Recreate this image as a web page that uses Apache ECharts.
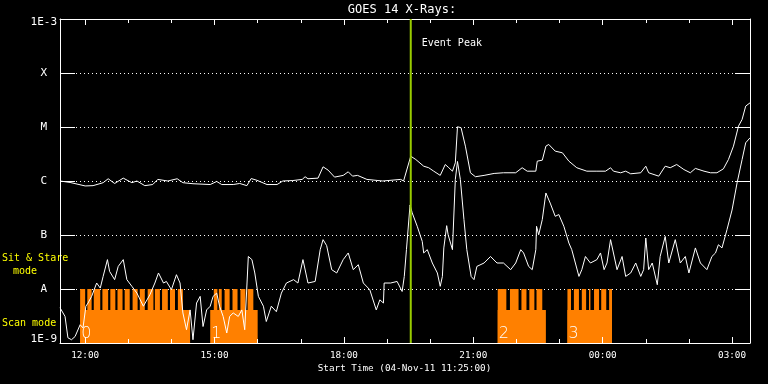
<!DOCTYPE html>
<html><head><meta charset="utf-8">
<script src="https://cdn.jsdelivr.net/npm/echarts@6/dist/echarts.min.js"></script>
<style>html,body{margin:0;padding:0;background:#000}#c{width:768px;height:384px}</style>
</head><body><div id="c"></div><script>
const chartTitle = 'GOES 14 X-Rays:';
const xAxisTitle = 'Start Time (04-Nov-11 11:25:00)';
const startTime = '11:25';
const endTime = '03:25';
const majorTickLabels = ['12:00', '15:00', '18:00', '21:00', '00:00', '03:00'];
const hourTicks = ['12:00','13:00','14:00','15:00','16:00','17:00','18:00','19:00','20:00','21:00','22:00','23:00','00:00','01:00','02:00','03:00'];
const yTickLabels = ['1E-9', 'A', 'B', 'C', 'M', 'X', '1E-3'];
const eventPeakTime = '19:33';
const eventPeakLabel = 'Event Peak';
const modeLabels = ['Sit & Stare', 'mode', 'Scan mode'];

// GOES long channel (1-8 A) [time, W/m^2]
const longChannel = [
['11:25',1.0e-6],['11:39',0.94e-6],['12:00',0.81e-6],['12:11',0.82e-6],['12:25',0.93e-6],['12:32',1.10e-6],['12:41',0.90e-6],['12:53',1.13e-6],['13:05',0.93e-6],['13:12',1.0e-6],['13:23',0.82e-6],['13:34',0.86e-6],['13:41',1.07e-6],['13:55',1.0e-6],['14:08',1.10e-6],['14:16',0.93e-6],['14:30',0.89e-6],['14:54',0.86e-6],['15:03',0.98e-6],['15:10',0.86e-6],['15:26',0.86e-6],['15:35',0.90e-6],['15:45',0.82e-6],['15:51',1.11e-6],['15:59',1.03e-6],['16:13',0.86e-6],['16:27',0.86e-6],['16:35',1.0e-6],['16:49',1.02e-6],['17:02',1.07e-6],['17:06',1.2e-6],['17:10',1.10e-6],['17:24',1.13e-6],['17:31',1.83e-6],['17:38',1.59e-6],['17:47',1.18e-6],['17:59',1.27e-6],['18:06',1.48e-6],['18:12',1.23e-6],['18:19',1.27e-6],['18:32',1.07e-6],['18:54',1.0e-6],['19:19',1.07e-6],['19:23',1.0e-6],['19:33',2.88e-6],['19:40',2.5e-6],['19:51',1.88e-6],['19:58',1.76e-6],['20:05',1.52e-6],['20:14',1.27e-6],['20:21',2.02e-6],['20:26',1.76e-6],['20:31',1.52e-6],['20:35',2.17e-6],['20:38',1.01e-5],['20:43',9.7e-6],['20:49',4.42e-6],['20:56',1.42e-6],['21:03',1.2e-6],['21:15',1.27e-6],['21:29',1.38e-6],['21:42',1.42e-6],['21:59',1.42e-6],['22:08',1.76e-6],['22:15',1.52e-6],['22:27',1.52e-6],['22:29',2.33e-6],['22:36',2.43e-6],['22:41',4.42e-6],['22:45',4.75e-6],['22:54',3.57e-6],['23:04',3.33e-6],['23:13',2.33e-6],['23:24',1.76e-6],['23:38',1.52e-6],['23:52',1.52e-6],['00:04',1.52e-6],['00:11',1.76e-6],['00:15',1.52e-6],['00:25',1.42e-6],['00:32',1.52e-6],['00:39',1.36e-6],['00:53',1.42e-6],['01:00',1.88e-6],['01:04',1.42e-6],['01:18',1.23e-6],['01:27',1.88e-6],['01:34',1.76e-6],['01:43',2.02e-6],['01:53',1.63e-6],['02:02',1.42e-6],['02:09',1.71e-6],['02:21',1.52e-6],['02:30',1.42e-6],['02:39',1.42e-6],['02:48',1.68e-6],['02:55',2.5e-6],['03:02',4.42e-6],['03:09',1.04e-5],['03:14',1.38e-5],['03:19',2.44e-5],['03:25',2.8e-5]
];

// GOES short channel (0.5-4 A) [time, W/m^2]
const shortChannel = [
['11:25',4.5e-9],['11:32',3.1e-9],['11:36',1.25e-9],['11:41',1.15e-9],['11:46',1.32e-9],['11:53',2.18e-9],['11:57',1.9e-9],['12:01',4.8e-9],['12:04',5.5e-9],['12:09',7.3e-9],['12:16',1.29e-8],['12:21',1.04e-8],['12:25',1.71e-8],['12:31',3.5e-8],['12:34',2.12e-8],['12:41',1.49e-8],['12:46',2.62e-8],['12:53',3.5e-8],['12:58',1.49e-8],['13:05',1.12e-8],['13:12',8.4e-9],['13:21',4.8e-9],['13:30',7.8e-9],['13:37',1.29e-8],['13:42',1.98e-8],['13:49',1.29e-8],['13:53',1.38e-8],['14:00',9.7e-9],['14:07',1.84e-8],['14:12',1.29e-8],['14:16',3.6e-9],['14:21',1.76e-9],['14:26',4.1e-9],['14:30',1.15e-9],['14:35',5.5e-9],['14:40',7.3e-9],['14:44',2.02e-9],['14:49',4.1e-9],['14:54',4.8e-9],['14:58',7.3e-9],['15:03',8.4e-9],['15:07',4.8e-9],['15:12',3.1e-9],['15:17',1.53e-9],['15:21',3.1e-9],['15:26',3.6e-9],['15:33',3.1e-9],['15:38',4.1e-9],['15:42',1.76e-9],['15:47',4.0e-8],['15:52',3.5e-8],['15:56',1.98e-8],['16:01',7.3e-9],['16:08',4.8e-9],['16:12',2.5e-9],['16:19',4.8e-9],['16:26',3.8e-9],['16:33',8.4e-9],['16:40',1.29e-8],['16:50',1.49e-8],['16:56',1.29e-8],['17:03',3.5e-8],['17:10',1.29e-8],['17:20',1.38e-8],['17:27',5.35e-8],['17:31',8.2e-8],['17:36',6.35e-8],['17:43',2.28e-8],['17:50',1.98e-8],['17:59',3.5e-8],['18:06',4.65e-8],['18:13',2.28e-8],['18:20',2.82e-8],['18:27',1.29e-8],['18:36',9.7e-9],['18:45',4.1e-9],['18:50',6.3e-9],['18:55',5.5e-9],['18:56',1.29e-8],['19:05',1.29e-8],['19:14',1.38e-8],['19:21',9.0e-9],['19:24',1.71e-8],['19:27',5.35e-8],['19:32',3.6e-7],['19:35',2.57e-7],['19:42',1.45e-7],['19:49',7.6e-8],['19:51',4.65e-8],['19:56',5.35e-8],['20:03',3.03e-8],['20:10',1.98e-8],['20:14',1.12e-8],['20:17',1.71e-8],['20:19',5.76e-8],['20:23',1.49e-7],['20:25',1.01e-7],['20:31',5.35e-8],['20:35',1.07e-6],['20:38',2.3e-6],['20:42',1.07e-6],['20:47',1.93e-7],['20:51',5.35e-8],['20:57',1.71e-8],['21:01',1.49e-8],['21:05',2.62e-8],['21:15',3.03e-8],['21:24',4.0e-8],['21:33',3.03e-8],['21:42',3.03e-8],['21:52',2.28e-8],['21:59',3.03e-8],['22:06',5.35e-8],['22:10',4.65e-8],['22:17',2.62e-8],['22:22',2.28e-8],['22:27',5.35e-8],['22:28',1.45e-7],['22:31',1.01e-7],['22:36',1.93e-7],['22:41',6.0e-7],['22:47',3.9e-7],['22:54',2.22e-7],['22:59',2.39e-7],['23:06',1.45e-7],['23:13',7.1e-8],['23:17',5.35e-8],['23:22',3.03e-8],['23:27',1.71e-8],['23:31',2.28e-8],['23:36',4.0e-8],['23:43',3.03e-8],['23:52',3.5e-8],['23:57',4.65e-8],['00:02',2.28e-8],['00:06',3.03e-8],['00:11',8.2e-8],['00:20',2.28e-8],['00:27',4.0e-8],['00:32',1.71e-8],['00:39',1.98e-8],['00:46',3.03e-8],['00:53',1.71e-8],['00:57',2.28e-8],['01:00',8.8e-8],['01:04',2.28e-8],['01:09',3.03e-8],['01:16',1.2e-8],['01:20',4.0e-8],['01:27',9.4e-8],['01:32',3.03e-8],['01:41',8.2e-8],['01:48',3.03e-8],['01:55',4.0e-8],['02:00',1.98e-8],['02:09',5.76e-8],['02:16',3.03e-8],['02:25',2.28e-8],['02:32',4.0e-8],['02:37',4.65e-8],['02:41',6.6e-8],['02:46',5.76e-8],['02:53',1.26e-7],['03:00',2.9e-7],['03:07',9.2e-7],['03:14',2.5e-6],['03:19',5.1e-6],['03:25',6.3e-6]
];

// Observing mode blocks: [start, end, label]
const scanBlocks = [['11:53','14:26','0'], ['14:54','16:00','1'], ['21:34','22:41','2'], ['23:11','00:13','3']];
const stareBars = [
['11:53','12:00'],['12:03','12:09'],['12:12','12:21'],['12:24','12:32'],['12:35','12:42'],['12:45','12:52'],['12:55','13:02'],['13:06','13:13'],['13:16','13:23'],['13:27','13:35'],['13:37','13:44'],['13:47','13:55'],['13:58','14:05'],['14:09','14:16'],
['14:59','15:04'],['15:06','15:10'],['15:14','15:21'],['15:25','15:32'],['15:36','15:43'],['15:46','15:54'],
['21:34','21:46'],['21:51','22:03'],['22:07','22:14'],['22:18','22:25'],['22:28','22:36'],
['23:11','23:16'],['23:20','23:27'],['23:31','23:37'],['23:41','23:43'],['23:48','23:55'],['23:58','00:05'],['00:09','00:13']
];
const scanLevel = 4.1e-9;
const stareLevel = 1e-8;
const yMin = 1e-9, yMax = 1e-3;

const WHITE = '#ffffff', ORANGE = '#ff8000', GREEN = '#99cc00', YELLOW = '#ffff00';
const MONO = '"DejaVu Sans Mono", monospace';

function toHour(s) {
  const p = s.split(':').map(Number);
  let v = p[0] + p[1] / 60;
  if (v < 11) v += 24;
  return v;
}
const xMin = toHour(startTime), xMax = toHour(endTime);
const majorVals = majorTickLabels.map(toHour);
const hourVals = hourTicks.map(toHour);

const chart = echarts.init(document.getElementById('c'), null, {renderer: 'canvas'});

const xBase = {
  type: 'value', min: xMin, max: xMax, z: 4,
  splitLine: {show: false},
  axisLine: {show: false, onZero: false},
  axisLabel: {show: false},
  axisTick: {show: false}
};
const borderLine = {show: true, onZero: false, lineStyle: {color: WHITE, width: 1}};
const majorTick = {show: true, inside: true, length: 6, customValues: majorVals, lineStyle: {color: WHITE, width: 1}};
const minorTick = {show: true, inside: true, length: 4, customValues: hourVals, lineStyle: {color: WHITE, width: 1}};

function fmtHour(v) {
  const h = Math.round(v) % 24;
  return (h < 10 ? '0' : '') + h + ':00';
}

function yLabel(v) {
  const idx = Math.round(Math.log10(v)) + 9;
  const t = yTickLabels[idx];
  if (idx === 6) return '{top|' + t + '}';
  if (idx === 0) return '{bot|' + t + '}';
  return '{l|' + t + '}';
}
const yFont = {fontFamily: MONO, fontSize: 11, color: WHITE};

function renderModeBlock(params, api) {
  const s = api.coord([api.value(0), api.value(2)]);
  const e = api.coord([api.value(1), yMin]);
  const children = [{
    type: 'rect',
    shape: {x: s[0], y: s[1], width: e[0] - s[0], height: e[1] - s[1]},
    style: {fill: ORANGE}
  }];
  if (params.seriesName === 'scan') {
    const lbl = scanBlocks[params.dataIndex][2];
    children.push({
      type: 'text', x: s[0] + 1, y: e[1] - 1, z2: 5,
      style: {text: lbl, fill: WHITE, fontSize: 16, fontWeight: 200, fontFamily: '"DejaVu Sans"',
        font: '200 16px "DejaVu Sans"', textAlign: 'left', align: 'left',
        textVerticalAlign: 'bottom', verticalAlign: 'bottom'}
    });
  }
  return {type: 'group', children: children};
}

function renderEvent(params, api) {
  const p0 = api.coord([api.value(0), yMax]);
  const p1 = api.coord([api.value(0), yMin]);
  return {type: 'group', children: [
    {type: 'line', shape: {x1: p0[0], y1: p0[1], x2: p1[0], y2: p1[1]}, style: {stroke: GREEN, lineWidth: 2}},
    {type: 'text', x: p0[0] + 11, y: p0[1] + 24,
      style: {text: eventPeakLabel, fill: WHITE, font: '10px ' + MONO, fontSize: 10, fontFamily: MONO,
        textAlign: 'left', align: 'left', textVerticalAlign: 'middle', verticalAlign: 'middle'}}
  ]};
}

function gText(x, y, text, size, color, align) {
  return {type: 'text', x: x, y: y,
    style: {text: text, fill: color, font: size + 'px ' + MONO, fontSize: size, fontFamily: MONO,
      textAlign: align, align: align, textVerticalAlign: 'middle', verticalAlign: 'middle'}};
}

const option = {
  backgroundColor: '#000000',
  animation: false,
  grid: {left: 60, top: 19, width: 690, height: 324, containLabel: false, outerBoundsMode: 'none', show: false},
  xAxis: [
    Object.assign({}, xBase, {position: 'bottom', axisLine: borderLine, axisTick: majorTick,
      axisLabel: {show: true, customValues: majorVals, formatter: fmtHour, color: WHITE,
        fontFamily: MONO, fontSize: 9.3, margin: 13, verticalAlign: 'middle'}}),
    Object.assign({}, xBase, {position: 'bottom', axisTick: minorTick}),
    Object.assign({}, xBase, {position: 'top', axisLine: borderLine, axisTick: majorTick}),
    Object.assign({}, xBase, {position: 'top', axisTick: minorTick})
  ],
  yAxis: [
    {type: 'log', logBase: 10, min: yMin, max: yMax, splitNumber: 6, position: 'left',
      axisLine: {show: true, lineStyle: {color: WHITE, width: 1}},
      axisTick: {show: true, inside: true, length: 15, lineStyle: {color: WHITE, width: 1}},
      splitLine: {show: true, lineStyle: {color: WHITE, width: 1, type: [1, 3]}},
      minorTick: {show: false}, minorSplitLine: {show: false},
      axisLabel: {show: true, margin: 3, formatter: yLabel, color: WHITE, fontFamily: MONO, fontSize: 11,
        rich: {
          top: Object.assign({padding: [7, 0, 0, 0]}, yFont),
          bot: Object.assign({padding: [0, 0, 7, 0]}, yFont),
          l: Object.assign({padding: [0, 10, 0, 0]}, yFont)
        }}},
    {type: 'log', logBase: 10, min: yMin, max: yMax, splitNumber: 6, position: 'right',
      axisLine: {show: true, lineStyle: {color: WHITE, width: 1}},
      axisTick: {show: true, inside: true, length: 15, lineStyle: {color: WHITE, width: 1}},
      splitLine: {show: false}, axisLabel: {show: false}}
  ],
  graphic: [
    gText(402, 9.5, chartTitle, 12, WHITE, 'center'),
    gText(404.5, 368.5, xAxisTitle, 9.3, WHITE, 'center'),
    gText(2, 258.7, modeLabels[0], 10, YELLOW, 'left'),
    gText(13, 271.3, modeLabels[1], 10, YELLOW, 'left'),
    gText(2, 323.7, modeLabels[2], 10, YELLOW, 'left')
  ],
  series: [
    {name: 'scan', type: 'custom', xAxisIndex: 0, yAxisIndex: 0, z: 1, silent: true,
      renderItem: renderModeBlock, encode: {x: [0, 1], y: 2},
      data: scanBlocks.map(b => [toHour(b[0]), toHour(b[1]), scanLevel])},
    {name: 'stare', type: 'custom', xAxisIndex: 0, yAxisIndex: 0, z: 1, silent: true,
      renderItem: renderModeBlock, encode: {x: [0, 1], y: 2},
      data: stareBars.map(b => [toHour(b[0]), toHour(b[1]), stareLevel])},
    {name: 'long', type: 'line', xAxisIndex: 0, yAxisIndex: 0, z: 3, showSymbol: false, symbol: 'none',
      lineStyle: {color: WHITE, width: 1}, silent: true,
      data: longChannel.map(d => [toHour(d[0]), d[1]])},
    {name: 'short', type: 'line', xAxisIndex: 0, yAxisIndex: 0, z: 3, showSymbol: false, symbol: 'none',
      lineStyle: {color: WHITE, width: 1}, silent: true,
      data: shortChannel.map(d => [toHour(d[0]), d[1]])},
    {name: 'event', type: 'custom', xAxisIndex: 0, yAxisIndex: 0, z: 6, silent: true,
      renderItem: renderEvent, encode: {x: 0, y: 1},
      data: [[toHour(eventPeakTime), yMax]]}
  ]
};
chart.setOption(option);
</script></body></html>
